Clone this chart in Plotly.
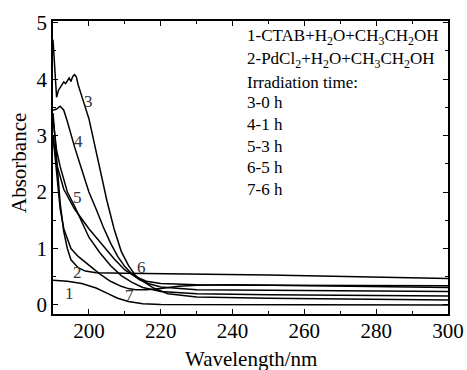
import plotly.graph_objects as go

# Wavelength (nm) / absorbance samples per curve
x1 = [190, 194, 198, 202, 205, 208, 211, 215, 220, 240, 270, 300]
y1 = [0.44, 0.42, 0.38, 0.30, 0.21, 0.12, 0.06, 0.02, 0.01, 0.01, 0.0, 0.0]

x2 = [190, 191, 192, 193, 194, 195, 197, 199, 202, 210, 220, 250, 300]
y2 = [3.4, 2.6, 1.8, 1.3, 1.0, 0.8, 0.66, 0.6, 0.57, 0.56, 0.555, 0.53, 0.47]

x3 = [190, 190.5, 191, 191.5, 192, 193, 193.5, 194, 194.5, 195, 195.5, 196, 196.5, 197, 198, 199, 200,
      201, 202, 203, 205, 207, 209, 211, 213, 215, 218, 222, 230, 250, 300]
y3 = [4.7, 4.1, 3.68, 3.8, 3.85, 3.95, 3.92, 3.97, 4.02, 3.96, 4.05, 4.08, 4.04, 3.9, 3.72, 3.5, 3.3,
      3.0, 2.7, 2.4, 1.85, 1.35, 0.95, 0.7, 0.52, 0.42, 0.3, 0.2, 0.14, 0.12, 0.09]

x4 = [190, 191, 192, 193, 194, 195, 196, 198, 200, 202, 204, 206, 208, 210, 212, 214, 217, 220, 230, 250, 300]
y4 = [3.45, 3.47, 3.52, 3.45, 3.25, 3.0, 2.8, 2.4, 2.0, 1.7, 1.38, 1.1, 0.86, 0.68, 0.55, 0.45, 0.37, 0.32, 0.27, 0.26, 0.24]

x5 = [190, 191, 192, 193, 194, 196, 198, 200, 203, 206, 209, 212, 215, 220, 230, 250, 300]
y5 = [3.3, 2.74, 2.45, 2.2, 2.0, 1.75, 1.48, 1.2, 0.93, 0.7, 0.52, 0.4, 0.31, 0.24, 0.2, 0.18, 0.16]

x6 = [190, 191, 193, 196, 200, 204, 207, 210, 213, 216, 220, 230, 250, 300]
y6 = [3.0, 2.5, 2.05, 1.7, 1.35, 1.05, 0.82, 0.62, 0.5, 0.42, 0.38, 0.36, 0.35, 0.34]

x7 = [190, 191, 192, 193, 195, 197, 200, 203, 206, 209, 211, 213, 216, 220, 225, 230, 240, 260, 300]
y7 = [3.0, 2.3, 1.7, 1.35, 1.0, 0.86, 0.7, 0.55, 0.42, 0.33, 0.29, 0.27, 0.27, 0.29, 0.33, 0.35, 0.36, 0.34, 0.31]

series = [(x1, y1), (x2, y2), (x3, y3), (x4, y4), (x5, y5), (x6, y6), (x7, y7)]

curve_labels = ["1", "2", "3", "4", "5", "6", "7"]
label_x = [194.7, 196.7, 200.0, 197.2, 196.7, 214.7, 211.4]
label_y = [0.21, 0.57, 3.6, 2.89, 1.91, 0.66, 0.16]

legend_lines = [
    "1-CTAB+H<sub>2</sub>O+CH<sub>3</sub>CH<sub>2</sub>OH",
    "2-PdCl<sub>2</sub>+H<sub>2</sub>O+CH<sub>3</sub>CH<sub>2</sub>OH",
    "Irradiation time:",
    "3-0 h",
    "4-1 h",
    "5-3 h",
    "6-5 h",
    "7-6 h",
]
legend_py = [37, 60, 82, 103, 124, 146, 167, 189]

x_title = "Wavelength/nm"
y_title = "Absorbance"

FONT = "Liberation Serif"

fig = go.Figure()
for xs, ys in series:
    fig.add_trace(go.Scatter(x=xs, y=ys, mode="lines",
                             line=dict(color="black", width=1.5),
                             showlegend=False, hoverinfo="skip"))

for t, lx, ly in zip(curve_labels, label_x, label_y):
    fig.add_annotation(x=lx, y=ly, text=t, showarrow=False,
                       font=dict(family=FONT, size=17, color="#333"),
                       xanchor="center", yanchor="middle")

W, H = 467, 370
ml, mr, mt, mb = 53, 19, 21, 56
pw = W - ml - mr
ph = H - mt - mb
for t, py in zip(legend_lines, legend_py):
    fig.add_annotation(xref="paper", yref="paper",
                       x=(245 - ml) / pw, y=(H - mb - py) / ph,
                       text=t, showarrow=False, xanchor="left", yanchor="middle",
                       font=dict(family=FONT, size=17, color="black"))

# axis titles
fig.add_annotation(xref="paper", yref="paper", x=0.5, y=(H - mb - 359) / ph,
                   text=x_title, showarrow=False, xanchor="center", yanchor="middle",
                   font=dict(family=FONT, size=21, color="black"))
fig.add_annotation(xref="paper", yref="paper", x=(19 - ml) / pw, y=(H - mb - 163) / ph,
                   text=y_title, showarrow=False, textangle=-90, xanchor="center", yanchor="middle",
                   font=dict(family=FONT, size=21, color="black"))

axis_common = dict(
    showline=True, linecolor="black", linewidth=1.5, mirror="ticks",
    ticks="inside", ticklen=5, tickwidth=1.2, tickcolor="black",
    showgrid=False, zeroline=False, automargin=False,
    tickfont=dict(family=FONT, size=21, color="black"),
)

fig.update_layout(
    width=W, height=H,
    margin=dict(l=ml, r=mr, t=mt, b=mb),
    paper_bgcolor="white", plot_bgcolor="white",
    font=dict(family=FONT),
    xaxis=dict(range=[190, 300], tickvals=[200, 220, 240, 260, 280, 300],
               ticklabelstandoff=-3,
               minor=dict(dtick=10, tick0=190, ticks="inside", ticklen=3, tickcolor="black"),
               **axis_common),
    yaxis=dict(range=[-0.16, 5.03], tickvals=[0, 1, 2, 3, 4, 5],
               minor=dict(dtick=0.5, tick0=0, ticks="inside", ticklen=3, tickcolor="black"),
               **axis_common),
)

fig.write_html("out.html")
